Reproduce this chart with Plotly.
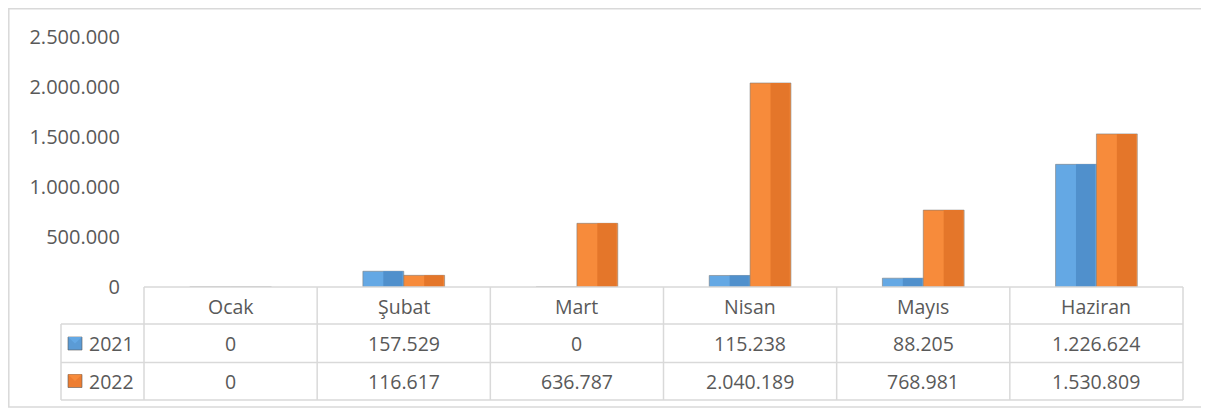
import plotly.graph_objects as go

months = ["Ocak", "Şubat", "Mart", "Nisan", "Mayıs", "Haziran"]
series_names = ["2021", "2022"]
v2021 = [0, 157529, 0, 115238, 88205, 1226624]
v2022 = [0, 116617, 636787, 2040189, 768981, 1530809]
y_ticks = [0, 500000, 1000000, 1500000, 2000000, 2500000]

OFF = 8                      # page body margin of the browser
W, H = 1209 - OFF, 412 - OFF
Y0, YTOP = 287 - OFF, 37 - OFF   # figure pixel rows of value 0 and 2.500.000
X0, X1 = 144 - OFF, 1183 - OFF   # plot area left/right in figure pixels
PH = Y0 - YTOP


def px(x):
    """screen x pixel -> paper"""
    return (x - OFF) / W


def py(y):
    """screen y pixel -> paper"""
    return (Y0 - (y - OFF)) / PH


def fmt(v):
    return f"{v:,}".replace(",", ".")


FONT = "Open Sans"
FS = 19.5
TXT = "#595959"
GRID = "#d9d9d9"

colors = {
    "2021": ("#5b9bd5", "#64a8e4", "#5090cc"),
    "2022": ("#ed7d31", "#f78b3b", "#e4762a"),
}

bw = 0.236
fig = go.Figure()
for name, vals, off in [("2021", v2021, -bw), ("2022", v2022, 0.0)]:
    base, light, dark = colors[name]
    fig.add_trace(go.Bar(
        x=months, y=vals, width=bw, offset=off,
        marker=dict(color=light, line=dict(color="rgba(120,120,120,0.55)", width=1)),
        showlegend=False, hoverinfo="skip"))
    fig.add_trace(go.Bar(
        x=months, y=vals, width=bw * 0.47, offset=off + bw * 0.5,
        marker=dict(color=dark, line=dict(width=0)),
        showlegend=False, hoverinfo="skip"))

shapes = []
line = dict(color=GRID, width=1.5)
shapes.append(dict(type="rect", xref="paper", yref="paper",
                   x0=px(8.8), x1=px(1230), y0=py(407), y1=py(8.8),
                   line=dict(color="#d9d9d9", width=1.5), layer="below"))
shapes.append(dict(type="line", xref="paper", yref="paper", x0=px(144), x1=px(1183), y0=py(287), y1=py(287), line=line))
for yy in [324, 362.5, 400]:
    shapes.append(dict(type="line", xref="paper", yref="paper", x0=px(61), x1=px(1183), y0=py(yy), y1=py(yy), line=line))
shapes.append(dict(type="line", xref="paper", yref="paper", x0=px(61), x1=px(61), y0=py(324), y1=py(400), line=line))
cw = (1183 - 144) / len(months)
for i in range(len(months) + 1):
    xx = 144 + i * cw
    shapes.append(dict(type="line", xref="paper", yref="paper", x0=px(xx), x1=px(xx), y0=py(287), y1=py(400), line=line))

annotations = []
row_y = [306, 343.5, 381]
for m in months:
    annotations.append(dict(x=m, xref="x", y=py(row_y[0]), yref="paper", text=m, showarrow=False,
                            font=dict(family=FONT, size=FS, color=TXT), xanchor="center", yanchor="middle"))
for r, vals in enumerate([v2021, v2022]):
    for m, v in zip(months, vals):
        annotations.append(dict(x=m, xref="x", y=py(row_y[r + 1]), yref="paper", text=fmt(v), showarrow=False,
                                font=dict(family=FONT, size=FS, color=TXT), xanchor="center", yanchor="middle"))
for r, name in enumerate(series_names):
    base, light, dark = colors[name]
    yc = row_y[r + 1]
    shapes.append(dict(type="rect", xref="paper", yref="paper",
                       x0=px(68), x1=px(82), y0=py(yc + 6.5), y1=py(yc - 6.5),
                       fillcolor=base, line=dict(color="rgba(90,90,90,0.6)", width=1)))
    shapes.append(dict(type="path", xref="paper", yref="paper",
                       path=f"M {px(68)},{py(yc-6.5)} L {px(75)},{py(yc)} L {px(82)},{py(yc-6.5)} Z",
                       fillcolor=light, line=dict(width=0)))
    annotations.append(dict(x=px(87), xref="paper", y=py(yc), yref="paper", text=name, showarrow=False,
                            font=dict(family=FONT, size=FS, color=TXT), xanchor="left", yanchor="middle"))

fig.update_layout(
    width=W, height=H,
    margin=dict(l=0, r=0, t=YTOP, b=H - Y0, pad=0),
    paper_bgcolor="white", plot_bgcolor="white",
    barmode="overlay",
    shapes=shapes, annotations=annotations,
    xaxis=dict(domain=[X0 / W, X1 / W], type="category", categoryorder="array", categoryarray=months,
               showticklabels=False, showgrid=False, zeroline=False, showline=False,
               range=[-0.5, len(months) - 0.5]),
    yaxis=dict(range=[0, 2500000], tickvals=y_ticks, ticktext=[fmt(t) for t in y_ticks],
               showgrid=False, zeroline=False, showline=False, ticks="",
               ticklabelstandoff=23,
               tickfont=dict(family=FONT, size=20, color=TXT)),
)

fig.write_html("out.html")
